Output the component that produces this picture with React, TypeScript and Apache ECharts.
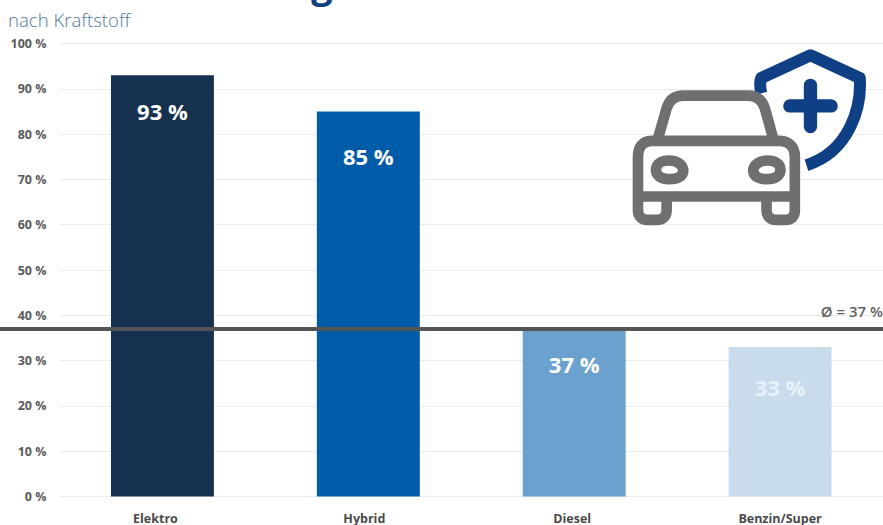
import React, { useEffect, useRef } from "react";
import * as echarts from "echarts";

const categories = ["Elektro", "Hybrid", "Diesel", "Benzin/Super"];
const shares = [93, 85, 37, 33];
const barColors = ["#163050", "#005ca8", "#6ba1cf", "#c8dcee"];
const labelColors = ["#ffffff", "#ffffff", "#ffffff", "#e9f1f9"];
const labelInsets = [25, 34, 24, 29];
const categoryRightPadding = [14, 8, 4, 0];
const averageShare = 37;
const averageLabel = "Ø = 37 %";
const subtitle = "nach Kraftstoff";
const headingTail = "g";

const FONT = '"Open Sans", sans-serif';

const carPath =
  "M112 303 L140 205 C148 180 165 167 190 167 L385 167 C410 167 427 180 435 205 L462 303 Z " +
  "M95 303 L480 303 C508 303 525 322 525 350 L525 470 L54 470 L54 350 C54 322 68 303 95 303 Z " +
  "M54 470 L54 512 C54 530 66 540 82 540 L112 540 C128 540 140 530 140 512 L140 470 " +
  "M440 470 L440 512 C440 530 452 540 468 540 L498 540 C514 540 525 530 525 512 L525 470 " +
  "M108 390 C108 372 125 362 148 362 C172 362 190 375 190 393 C190 410 172 418 148 418 C125 418 108 408 108 390 Z " +
  "M482 390 C482 372 465 362 442 362 C418 362 400 375 400 393 C400 410 418 418 442 418 C465 418 482 408 482 390 Z";

const shieldPath =
  "M424 160 C420 140 420 125 424 114 L572 46 L720 114 C726 200 690 335 560 376";

const crossPath = "M572 136 L572 260 M510 198 L634 198";

echarts.graphic.registerShape("carIcon", echarts.graphic.extendPath(carPath, {}) as any);
echarts.graphic.registerShape("shieldIcon", echarts.graphic.extendPath(shieldPath, {}) as any);
echarts.graphic.registerShape("crossIcon", echarts.graphic.extendPath(crossPath, {}) as any);

export default function App() {
  const ref = useRef<HTMLDivElement>(null);

  useEffect(() => {
    const chart = echarts.init(ref.current!, undefined, { renderer: "svg" });
    const icon = { x: 620, y: 40, scaleX: 1 / 3, scaleY: 1 / 3, z: 20 };
    chart.setOption({
      animation: false,
      backgroundColor: "#ffffff",
      grid: { left: 59.5, right: -0.5, top: 43.5, bottom: 28.5 },
      xAxis: {
        type: "category",
        data: categories.map((value, i) => ({
          value,
          textStyle: { padding: [0, categoryRightPadding[i], 0, 0] },
        })),
        axisLine: { show: false },
        axisTick: { show: false },
        axisLabel: { color: "#4a4a4a", fontFamily: FONT, fontWeight: 700, fontSize: 12.5, margin: 15 },
      },
      yAxis: {
        type: "value",
        min: 0,
        max: 100,
        interval: 10,
        axisLine: { show: false },
        axisTick: { show: false },
        splitLine: { lineStyle: { color: "#ececec", width: 1 } },
        axisLabel: {
          color: "#5a5a5a",
          fontFamily: FONT,
          fontWeight: 700,
          fontSize: 12.5,
          margin: 13,
          formatter: "{value} %",
        },
      },
      series: [
        {
          type: "bar",
          barWidth: "50%",
          data: shares.map((value, i) => ({
            value,
            itemStyle: { color: barColors[i] },
            label: { color: labelColors[i], distance: labelInsets[i] },
          })),
          label: {
            show: true,
            position: "insideTop",
            formatter: "{c} %",
            fontFamily: FONT,
            fontWeight: 700,
            fontSize: 22,
          },
        },
      ],
    });

    // The average rule runs across the full width, past the axis labels.
    const averageY = chart.convertToPixel({ yAxisIndex: 0 }, averageShare) as number;
    chart.setOption({
      graphic: [
        {
          type: "text",
          x: 322,
          y: -17,
          style: {
            text: headingTail,
            fill: "#0f3f85",
            font: `700 38px ${FONT}`,
            align: "center",
            verticalAlign: "middle",
          },
        },
        {
          type: "text",
          left: 8,
          top: 10,
          style: { text: subtitle, fill: "#557799", font: `300 18.6px ${FONT}` },
        },
        {
          type: "line",
          z: 10,
          shape: { x1: 0, y1: averageY, x2: 883, y2: averageY },
          style: { stroke: "#555555", lineWidth: 4 },
        },
        {
          type: "text",
          right: 0,
          top: 303,
          z: 10,
          style: { text: averageLabel, fill: "#5f5f5f", font: `600 15px ${FONT}` },
        },
        { type: "shieldIcon", ...icon, style: { fill: "#ffffff", stroke: "#0f3f85", lineWidth: 36, lineJoin: "round" } },
        { type: "crossIcon", ...icon, style: { fill: "none", stroke: "#0f3f85", lineWidth: 40, lineCap: "round" } },
        {
          type: "carIcon",
          ...icon,
          z: 21,
          style: { fill: "#ffffff", stroke: "#6f6f6f", lineWidth: 32, lineJoin: "round", lineCap: "round" },
        },
      ],
    });
    return () => chart.dispose();
  }, []);

  return <div ref={ref} style={{ position: "absolute", left: 0, top: 0, width: 883, height: 525 }} />;
}
